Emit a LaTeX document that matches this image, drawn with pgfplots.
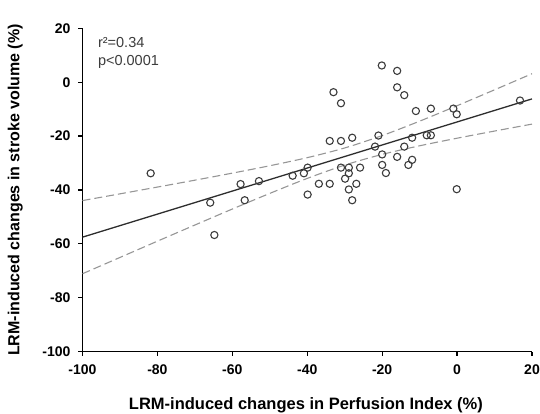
\documentclass[border=0pt]{standalone}
\usepackage{pgfplots}
\pgfplotsset{compat=1.18}
\usepackage{fontspec}
\setmainfont{Liberation Sans}
\definecolor{markc}{RGB}{60,60,60}
\definecolor{fitc}{RGB}{45,45,45}
\definecolor{bandc}{RGB}{150,150,150}
\definecolor{txtc}{RGB}{60,60,60}
\begin{document}
\begin{tikzpicture}[x=1pt,y=1pt]
\begin{axis}[
  at={(0pt,0pt)}, anchor=south west,
  width=449.5pt, height=323.4pt, scale only axis,
  xmin=-100, xmax=20, ymin=-100, ymax=20,
  axis lines=left,
  axis line style={-, line width=1.4pt, black},
  xtick={-100,-80,...,20}, ytick={-100,-80,...,20},
  tick align=outside, major tick length=4pt,
  tick style={line width=1.2pt, black},
  /pgf/number format/assume math mode=true,
  tick label style={font=\bfseries\fontsize{14}{14}\selectfont},
  xticklabel style={yshift=-5pt},
  yticklabel style={xshift=-4.5pt},
  xlabel={LRM-induced changes in Perfusion Index (\%)},
  ylabel={LRM-induced changes in stroke volume (\%)},
  every axis x label/.style={at={(axis description cs:0.497,-0.178)}, anchor=base, font=\bfseries\fontsize{16.5}{16.5}\selectfont},
  every axis y label/.style={at={(axis description cs:-0.1402,0.5)}, rotate=90, anchor=base, font=\bfseries\fontsize{16}{16}\selectfont},
  clip=false,
]
% regression line
\addplot[fitc, line width=1.3pt] coordinates {(-100,-57.5) (20,-6.2)};
% confidence bands
\addplot[bandc, line width=1.1pt, dash pattern=on 8pt off 4pt, smooth] coordinates {
(-100,-43.93) (-90,-41.43) (-80,-38.91) (-70,-36.36) (-60,-33.74) (-50,-31.00) (-40,-28.00) (-30,-24.40) (-20,-19.81) (-10,-14.46) (0,-8.72) (10,-2.83) (20,3.15)};
\addplot[bandc, line width=1.1pt, dash pattern=on 8pt off 4pt, smooth] coordinates {
(-100,-71.07) (-90,-65.03) (-80,-58.99) (-70,-53.00) (-60,-47.06) (-50,-41.26) (-40,-35.70) (-30,-30.76) (-20,-26.79) (-10,-23.60) (0,-20.78) (10,-18.13) (20,-15.55)};
% data points
\addplot[only marks, mark=o, mark size=3.6pt, mark options={draw=markc, line width=1.1pt, fill=none}] table {
x y
-81.8 -33.8
-65.9 -44.7
-64.8 -56.7
-57.8 -37.8
-56.7 -43.8
-52.9 -36.7
-43.9 -34.7
-40.9 -33.8
-39.9 -31.7
-39.9 -41.7
-36.9 -37.7
-34.0 -37.7
-33.0 -3.7
-34.0 -21.8
-31.0 -21.8
-31.0 -7.8
-31.0 -31.7
-28.9 -31.7
-28.9 -33.8
-25.9 -31.7
-29.9 -35.8
-26.9 -37.7
-28.9 -39.8
-28.0 -43.8
-28.0 -20.6
-21.0 -19.8
-21.9 -23.9
-20.1 6.2
-20.0 -26.8
-20.0 -30.7
-19.0 -33.7
-16.0 4.2
-16.0 -1.9
-16.0 -27.7
-14.1 -4.8
-14.1 -23.9
-13.0 -30.7
-12.0 -28.8
-12.0 -20.6
-11.0 -10.7
-8.1 -19.7
-7.0 -19.7
-7.0 -9.8
-1.0 -9.8
-0.1 -11.9
-0.1 -39.7
16.8 -6.8
};
\node[anchor=base west, inner sep=0pt, text=txtc, font=\fontsize{14.5}{14.5}\selectfont] at (axis cs:-95.9,12.95) {r²=0.34};
\node[anchor=base west, inner sep=0pt, text=txtc, font=\fontsize{14.5}{14.5}\selectfont] at (axis cs:-95.9,6.38) {p<0.0001};
\end{axis}
\pgfresetboundingbox
\useasboundingbox (-82.5pt,-62.3pt) rectangle (457.5pt,351.7pt);
\end{tikzpicture}
\end{document}
